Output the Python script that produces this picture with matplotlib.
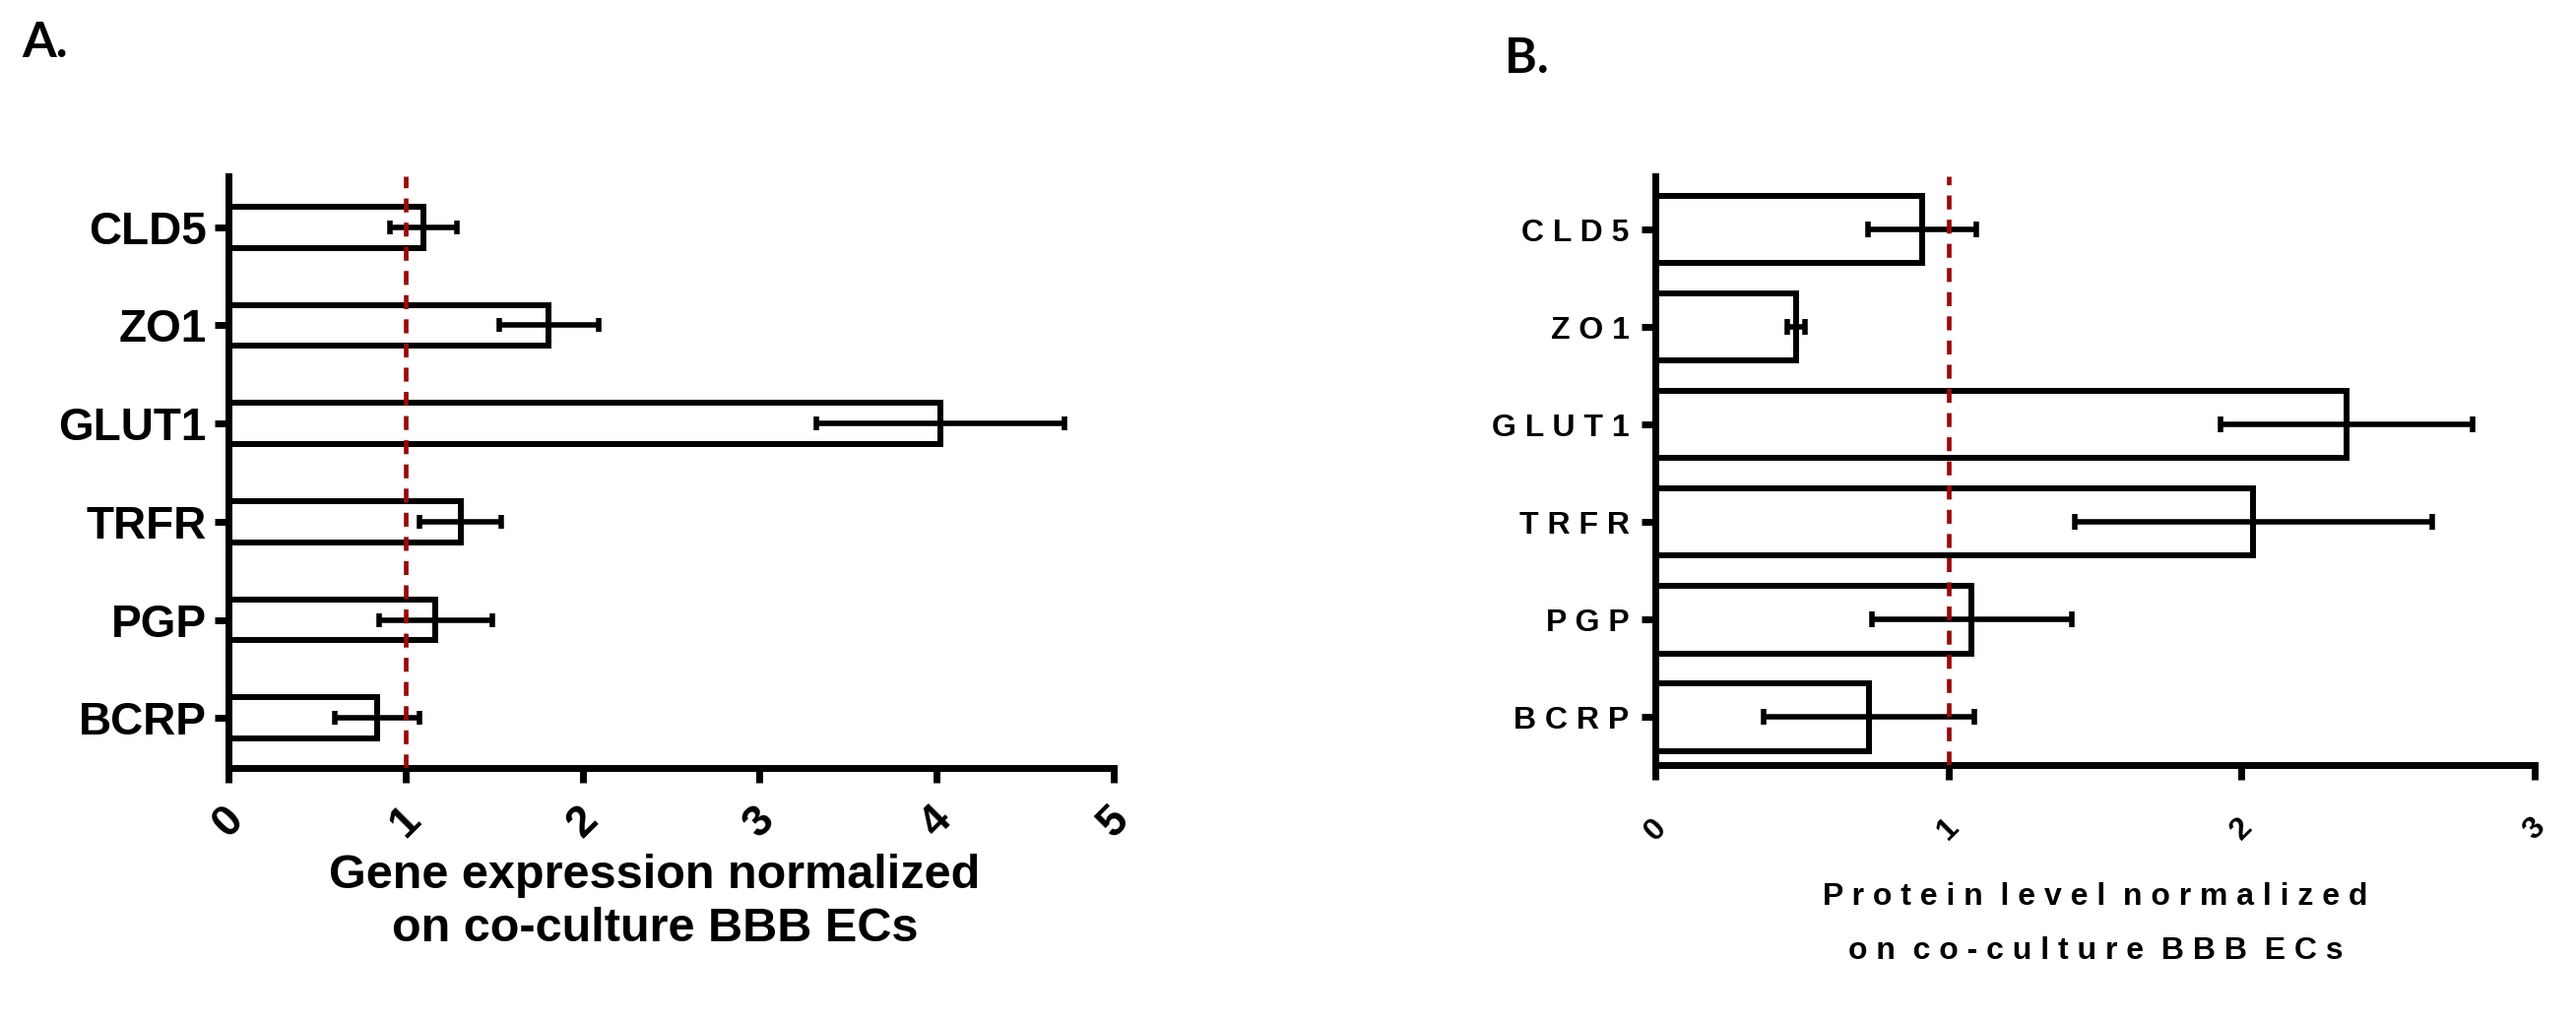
import matplotlib
matplotlib.use("Agg")
import matplotlib.pyplot as plt
import numpy as np

# ---- data ----
genes = ["CLD5", "ZO1", "GLUT1", "TRFR", "PGP", "BCRP"]

gene_expr = [1.10, 1.81, 4.02, 1.31, 1.17, 0.84]
gene_err = [0.19, 0.28, 0.70, 0.23, 0.32, 0.24]

protein_level = [0.91, 0.48, 2.36, 2.04, 1.08, 0.73]
protein_err = [0.185, 0.03, 0.43, 0.61, 0.34, 0.36]

ticks_a = [0, 1, 2, 3, 4, 5]
ticks_b = [0, 1, 2, 3]

xlabel_a = ["Gene expression normalized", "on co-culture BBB ECs"]
xlabel_b = ["Protein level normalized", "on co-culture BBB ECs"]


def spaced(s, gap=" ", word_gap="  "):
    return word_gap.join(gap.join(list(w)) for w in s.split(" "))


W, H = 2616, 1038
fig = plt.figure(figsize=(W / 100, H / 100), dpi=100)
FONT = "Liberation Sans"
RED = "#9a0a0a"

ypos = np.arange(len(genes))[::-1]


def make_panel(left, right, bottom_px, top_px, values, errs, ticks, bar_h,
               ylim, ylabel_size, ylabel_pad, ylabels, xt_size, xt_pad, capsize):
    ax = fig.add_axes([left / W, 1 - bottom_px / H, (right - left) / W,
                       (bottom_px - top_px) / H])
    ax.barh(ypos, values, height=bar_h, color="white", edgecolor="black",
            linewidth=4.3, zorder=1)
    ax.errorbar(values, ypos, xerr=errs, fmt="none", ecolor="black",
                elinewidth=4.0, capsize=capsize, capthick=4.0, zorder=3)
    ax.axvline(1, color=RED, lw=3.4, dashes=(3, 2.2), zorder=4)
    ax.set_xlim(ticks[0], ticks[-1])
    ax.set_ylim(*ylim)
    for s in ["top", "right"]:
        ax.spines[s].set_visible(False)
    for s in ["left", "bottom"]:
        ax.spines[s].set_linewidth(5)
        ax.spines[s].set_capstyle("projecting")
    ax.set_yticks(ypos)
    ax.set_yticklabels(ylabels, fontsize=ylabel_size, fontweight="bold",
                       family=FONT)
    ax.set_xticks(ticks)
    ax.set_xticklabels([str(t) for t in ticks], fontsize=xt_size,
                       fontweight="bold", family=FONT, rotation=45,
                       ha="center", va="top")
    ax.tick_params(axis="y", length=10, width=5, pad=ylabel_pad)
    ax.tick_params(axis="x", length=11, width=5, pad=xt_pad)
    ax.set_facecolor("none")
    return ax


axA = make_panel(232, 1131, 780, 179, gene_expr, gene_err, ticks_a, 0.42,
                 (-0.51, 5.52), 33, 6, genes, 32, 12, 4.7)
axB = make_panel(1681, 2574, 777, 179, protein_level, protein_err, ticks_b,
                 0.69, (-0.49, 5.545), 23, 9, [spaced(g) for g in genes],
                 23, 24, 5.8)

# x labels
fig.text(665 / W, 1 - 889 / H, xlabel_a[0], ha="center", va="center",
         fontsize=35, fontweight="bold", family=FONT)
fig.text(665 / W, 1 - 944 / H, xlabel_a[1], ha="center", va="center",
         fontsize=35, fontweight="bold", family=FONT)
fig.text(2128 / W, 1 - 911 / H, spaced(xlabel_b[0]), ha="center", va="center",
         fontsize=23, fontweight="bold", family=FONT)
fig.text(2128 / W, 1 - 966 / H, spaced(xlabel_b[1]), ha="center", va="center",
         fontsize=23, fontweight="bold", family=FONT)

# panel letters
fig.text(46 / W, 1 - 44 / H, "A.", ha="center", va="center", fontsize=36,
         fontweight="bold", family="Lato")
fig.text(1550 / W, 1 - 60 / H, "B.", ha="center", va="center", fontsize=36,
         fontweight="bold", family="Lato")

fig.savefig("out.png", dpi=100, facecolor="white")
